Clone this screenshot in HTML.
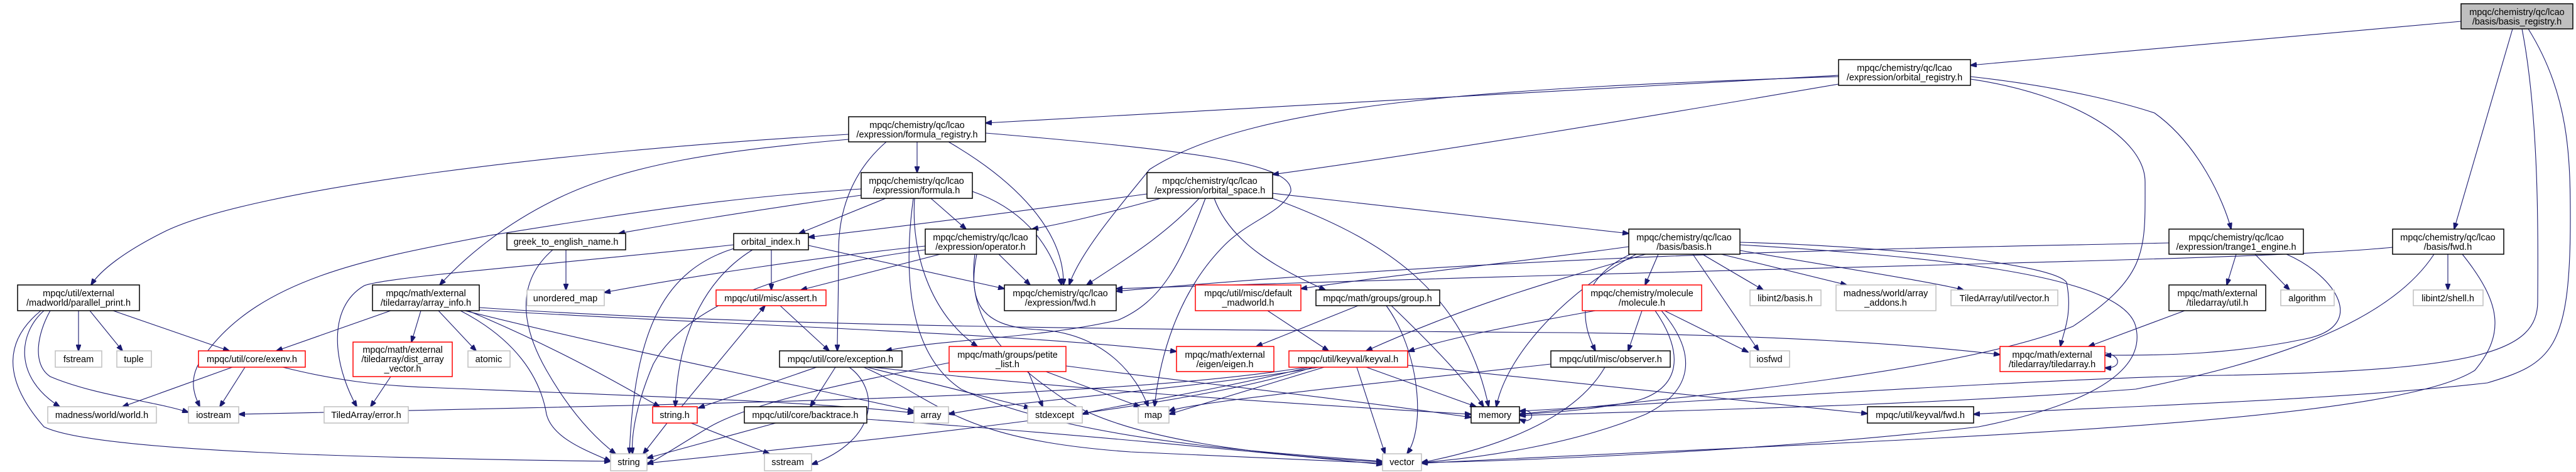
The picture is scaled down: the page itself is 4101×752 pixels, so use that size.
<!DOCTYPE html>
<html><head><meta charset="utf-8"><style>
html,body{margin:0;padding:0;background:#fff;width:4101px;height:752px;overflow:hidden}
svg text{font-family:"Liberation Sans",sans-serif;font-size:14.5px;fill:#000;text-anchor:middle}
.e{fill:none;stroke:#191970;stroke-width:1.1;marker-end:url(#a)}
.b{fill:#fff;stroke:#000;stroke-width:1.5}
.g{fill:#fff;stroke:#bfbfbf;stroke-width:1.5}
.r{fill:#fff;stroke:#ff0000;stroke-width:1.5}
.root{fill:#bfbfbf;stroke:#000;stroke-width:1.5}
</style></head><body>
<svg width="4101" height="752" viewBox="0 0 4101 752" xmlns="http://www.w3.org/2000/svg">
<defs><marker id="a" markerUnits="userSpaceOnUse" markerWidth="11" markerHeight="8" refX="10" refY="4" orient="auto"><path d="M0,0 L11,4 L0,8 z" fill="#191970" stroke="#191970"/></marker></defs>
<g>
<path class="e" d="M3918,34 L3137,104"/>
<path class="e" d="M4000,46 L3907,365"/>
<path class="e" d="M4015,46 C4045,200 4040,420 4040,480 C4040,560 3950,590 3540,598 C3300,600 2700,640 2419,655"/>
<path class="e" d="M4025,46 C4090,150 4092,250 4092,350 C4092,560 4060,580 3960,610 C3700,640 3300,650 3142,660"/>
<path class="e" d="M2927,120 L1569,196"/>
<path class="e" d="M2927,134 C2600,190 2300,240 2026,278"/>
<path class="e" d="M2927,122 C2400,140 2000,160 1830,270 C1790,320 1720,400 1702,454"/>
<path class="e" d="M3137,122 C3300,140 3400,170 3430,180 C3500,230 3540,320 3552,365"/>
<path class="e" d="M3137,126 C3300,150 3415,220 3415,290 C3415,400 3420,440 3300,520 C3100,600 2600,640 2419,660"/>
<path class="e" d="M1351,214 C900,240 400,300 260,370 C200,400 160,430 145,454"/>
<path class="e" d="M1351,222 C1150,240 1000,260 880,320 C800,360 740,410 700,454"/>
<path class="e" d="M1460,226 L1460,275"/>
<path class="e" d="M1411,226 C1360,270 1335,330 1335,400 C1335,480 1333,520 1333,559"/>
<path class="e" d="M1510,226 C1620,290 1695,370 1693,454"/>
<path class="e" d="M1569,212 C1900,240 2060,260 2055,305 C2040,340 1990,350 1950,390 C1870,470 1845,580 1838,648"/>
<path class="e" d="M1371,301 C1150,315 1000,340 780,375 C600,410 420,440 330,560 C295,600 310,630 318,648"/>
<path class="e" d="M1371,311 C1200,335 1050,360 985,372"/>
<path class="e" d="M1410,316 L1272,372"/>
<path class="e" d="M1482,316 L1538,365"/>
<path class="e" d="M1548,305 C1620,330 1670,380 1690,454"/>
<path class="e" d="M1456,316 C1450,400 1480,500 1556,552"/>
<path class="e" d="M1454,316 C1440,420 1440,560 1530,620 C1700,700 2000,720 2201,735"/>
<path class="e" d="M880,398 C820,450 830,520 870,590 C910,660 950,700 980,723"/>
<path class="e" d="M901,398 L901,462"/>
<path class="e" d="M1826,309 C1600,340 1400,365 1287,378"/>
<path class="e" d="M1848,316 C1760,340 1700,355 1643,365"/>
<path class="e" d="M1909,316 C1850,380 1780,420 1730,454"/>
<path class="e" d="M1919,316 C1880,420 1850,480 1780,510 C1650,540 1500,540 1410,559"/>
<path class="e" d="M2026,308 L2593,372"/>
<path class="e" d="M2026,316 C2200,380 2330,460 2370,648"/>
<path class="e" d="M1933,316 C1960,390 2040,430 2110,462"/>
<path class="e" d="M1287,391 L1599,460"/>
<path class="e" d="M1228,398 L1228,462"/>
<path class="e" d="M1198,398 C1130,440 1080,520 1075,648"/>
<path class="e" d="M1168,396 C1060,430 1010,520 1002,723"/>
<path class="e" d="M1168,390 C900,420 620,440 580,455 C520,490 530,580 568,648"/>
<path class="e" d="M1473,392 C1300,410 1100,440 962,466"/>
<path class="e" d="M1473,398 C1300,420 1100,470 1040,580 C1010,650 1005,700 1007,723"/>
<path class="e" d="M1497,405 C1400,430 1320,450 1275,462"/>
<path class="e" d="M1590,405 L1640,454"/>
<path class="e" d="M1555,405 C1540,480 1560,520 1650,525 C1760,530 1810,600 1828,648"/>
<path class="e" d="M1552,405 C1540,500 1580,560 1700,640 C1800,700 2000,725 2201,736"/>
<path class="e" d="M622,495 L440,559"/>
<path class="e" d="M670,495 L655,545"/>
<path class="e" d="M698,495 L758,559"/>
<path class="e" d="M733,495 C820,540 860,600 870,660 C880,700 940,720 972,735"/>
<path class="e" d="M745,495 C900,560 1000,620 1050,648"/>
<path class="e" d="M763,490 C1200,520 1800,525 2500,530 C2900,535 3100,555 3184,565"/>
<path class="e" d="M763,494 C1200,520 1600,530 1873,560"/>
<path class="e" d="M740,495 C1000,560 1300,620 1455,655"/>
<path class="e" d="M125,495 L125,559"/>
<path class="e" d="M143,495 L195,559"/>
<path class="e" d="M180,495 L365,559"/>
<path class="e" d="M70,495 C30,530 20,600 95,648"/>
<path class="e" d="M80,495 C60,530 50,580 80,600 C150,630 250,640 300,657"/>
<path class="e" d="M65,495 C10,540 0,600 70,680 C150,720 600,730 972,735"/>
<path class="e" d="M370,585 L195,648"/>
<path class="e" d="M390,585 L350,648"/>
<path class="e" d="M450,585 C530,605 600,615 700,618 C1000,630 1300,640 1455,658"/>
<path class="e" d="M622,600 L590,648"/>
<path class="e" d="M1062,674 L1024,723"/>
<path class="e" d="M1100,674 L1225,723"/>
<path class="e" d="M1085,648 L1218,487"/>
<path class="e" d="M1242,487 L1320,559"/>
<path class="e" d="M1300,585 L1112,650"/>
<path class="e" d="M1330,585 L1290,648"/>
<path class="e" d="M1352,585 C1400,620 1400,700 1292,740"/>
<path class="e" d="M1380,585 L1640,650"/>
<path class="e" d="M1375,585 C1500,640 1520,700 1800,720 C2000,730 2150,735 2201,738"/>
<path class="e" d="M1390,585 C1700,620 2000,640 2342,660"/>
<path class="e" d="M1235,674 L1030,730"/>
<path class="e" d="M1380,668 C1700,690 2000,720 2201,740"/>
<path class="e" d="M1637,592 L1660,648"/>
<path class="e" d="M1665,592 L1815,648"/>
<path class="e" d="M1697,583 C1900,610 2100,630 2342,665"/>
<path class="e" d="M1511,578 C1350,610 1200,640 1130,680 C1080,710 1050,730 1030,740"/>
<path class="e" d="M2018,495 L2115,559"/>
<path class="e" d="M2162,487 L2000,552"/>
<path class="e" d="M2215,487 C2270,540 2330,600 2362,648"/>
<path class="e" d="M2207,487 C2260,560 2270,680 2240,723"/>
<path class="e" d="M2620,405 C2500,440 2350,480 2175,559"/>
<path class="e" d="M2593,393 C2400,420 2200,440 2071,460"/>
<path class="e" d="M2640,405 L2619,454"/>
<path class="e" d="M2710,405 L2807,462"/>
<path class="e" d="M2740,405 L2940,454"/>
<path class="e" d="M2770,399 C2950,430 3080,450 3126,462"/>
<path class="e" d="M2695,405 L2800,559"/>
<path class="e" d="M2600,403 C2540,430 2500,480 2540,559"/>
<path class="e" d="M2605,405 C2500,460 2400,560 2382,648"/>
<path class="e" d="M2770,386 C3000,392 3270,420 3290,450 C3300,500 3285,530 3280,552"/>
<path class="e" d="M2770,390 C3100,410 3380,440 3400,520 C3420,600 3300,650 3150,680 C2800,720 2400,735 2263,737"/>
<path class="e" d="M2540,495 C2400,520 2300,540 2242,560"/>
<path class="e" d="M2614,495 L2592,559"/>
<path class="e" d="M2650,495 L2783,561"/>
<path class="e" d="M2635,495 C2680,560 2680,620 2600,640 C2520,655 2460,658 2419,660"/>
<path class="e" d="M2645,495 C2700,560 2700,620 2620,660 C2500,710 2350,730 2263,737"/>
<path class="e" d="M2160,585 L2205,723"/>
<path class="e" d="M2175,585 L2350,648"/>
<path class="e" d="M2241,582 L2973,659"/>
<path class="e" d="M2108,585 L1861,660"/>
<path class="e" d="M2100,585 C1900,620 1600,640 1510,660"/>
<path class="e" d="M2085,585 C1900,630 1750,650 1723,660"/>
<path class="e" d="M2080,585 C1800,630 1300,640 380,660"/>
<path class="e" d="M2090,585 C1900,650 1400,700 1030,738"/>
<path class="e" d="M2469,580 C2200,610 1900,640 1861,655"/>
<path class="e" d="M2555,585 C2500,680 2350,720 2263,737"/>
<path class="e" d="M2419,655 C2445,648 2445,678 2419,668"/>
<path class="e" d="M3351,562 C3378,566 3378,588 3351,586"/>
<path class="e" d="M3560,405 L3545,454"/>
<path class="e" d="M3590,405 L3645,462"/>
<path class="e" d="M3640,405 C3720,440 3770,520 3670,540 C3550,565 3450,566 3351,566"/>
<path class="e" d="M3453,387 C3100,395 2500,400 1777,464"/>
<path class="e" d="M3897,405 L3897,462"/>
<path class="e" d="M3809,394 C3600,415 3000,420 1777,460"/>
<path class="e" d="M3875,405 C3800,520 3600,580 3400,620 C3000,650 2600,655 2419,662"/>
<path class="e" d="M3920,405 C3980,480 3990,530 3940,590 C3800,680 3000,700 2263,738"/>
<path class="e" d="M3478,495 L3325,552"/>
</g>
<g>
<rect class="root" x="3918" y="6" width="178" height="40"/><text x="4007" y="24">mpqc/chemistry/qc/lcao</text><text x="4007" y="39">/basis/basis_registry.h</text>
<rect class="b" x="2927" y="95" width="210" height="41"/><text x="3032" y="113">mpqc/chemistry/qc/lcao</text><text x="3032" y="128">/expression/orbital_registry.h</text>
<rect class="b" x="1351" y="186" width="218" height="40"/><text x="1460" y="204">mpqc/chemistry/qc/lcao</text><text x="1460" y="219">/expression/formula_registry.h</text>
<rect class="b" x="1371" y="275" width="177" height="41"/><text x="1459" y="293">mpqc/chemistry/qc/lcao</text><text x="1459" y="308">/expression/formula.h</text>
<rect class="b" x="1826" y="275" width="200" height="41"/><text x="1926" y="293">mpqc/chemistry/qc/lcao</text><text x="1926" y="308">/expression/orbital_space.h</text>
<rect class="b" x="1473" y="365" width="177" height="40"/><text x="1561" y="383">mpqc/chemistry/qc/lcao</text><text x="1561" y="398">/expression/operator.h</text>
<rect class="b" x="2593" y="365" width="177" height="40"/><text x="2681" y="383">mpqc/chemistry/qc/lcao</text><text x="2681" y="398">/basis/basis.h</text>
<rect class="b" x="3453" y="365" width="214" height="40"/><text x="3560" y="383">mpqc/chemistry/qc/lcao</text><text x="3560" y="398">/expression/trange1_engine.h</text>
<rect class="b" x="3809" y="365" width="177" height="40"/><text x="3897" y="383">mpqc/chemistry/qc/lcao</text><text x="3897" y="398">/basis/fwd.h</text>
<rect class="b" x="807" y="372" width="189" height="26"/><text x="901" y="390">greek_to_english_name.h</text>
<rect class="b" x="1168" y="372" width="119" height="26"/><text x="1227" y="390">orbital_index.h</text>
<rect class="b" x="28" y="454" width="194" height="41"/><text x="125" y="472">mpqc/util/external</text><text x="125" y="487">/madworld/parallel_print.h</text>
<rect class="b" x="593" y="454" width="170" height="41"/><text x="678" y="472">mpqc/math/external</text><text x="678" y="487">/tiledarray/array_info.h</text>
<rect class="g" x="839" y="462" width="123" height="25"/><text x="900" y="480">unordered_map</text>
<rect class="r" x="1140" y="462" width="175" height="25"/><text x="1227" y="480">mpqc/util/misc/assert.h</text>
<rect class="b" x="1599" y="454" width="178" height="41"/><text x="1688" y="472">mpqc/chemistry/qc/lcao</text><text x="1688" y="487">/expression/fwd.h</text>
<rect class="r" x="1903" y="454" width="168" height="41"/><text x="1987" y="472">mpqc/util/misc/default</text><text x="1987" y="487">_madworld.h</text>
<rect class="b" x="2095" y="462" width="197" height="25"/><text x="2193" y="480">mpqc/math/groups/group.h</text>
<rect class="r" x="2519" y="454" width="190" height="41"/><text x="2614" y="472">mpqc/chemistry/molecule</text><text x="2614" y="487">/molecule.h</text>
<rect class="g" x="2786" y="462" width="113" height="25"/><text x="2842" y="480">libint2/basis.h</text>
<rect class="g" x="2923" y="454" width="159" height="41"/><text x="3002" y="472">madness/world/array</text><text x="3002" y="487">_addons.h</text>
<rect class="g" x="3106" y="462" width="170" height="25"/><text x="3191" y="480">TiledArray/util/vector.h</text>
<rect class="b" x="3453" y="454" width="154" height="41"/><text x="3530" y="472">mpqc/math/external</text><text x="3530" y="487">/tiledarray/util.h</text>
<rect class="g" x="3631" y="462" width="85" height="25"/><text x="3673" y="480">algorithm</text>
<rect class="g" x="3842" y="462" width="111" height="25"/><text x="3897" y="480">libint2/shell.h</text>
<rect class="g" x="88" y="559" width="74" height="26"/><text x="125" y="577">fstream</text>
<rect class="g" x="186" y="559" width="55" height="26"/><text x="213" y="577">tuple</text>
<rect class="r" x="316" y="559" width="170" height="26"/><text x="401" y="577">mpqc/util/core/exenv.h</text>
<rect class="r" x="562" y="545" width="158" height="55"/><text x="641" y="562">mpqc/math/external</text><text x="641" y="577">/tiledarray/dist_array</text><text x="641" y="592">_vector.h</text>
<rect class="g" x="745" y="559" width="67" height="26"/><text x="778" y="577">atomic</text>
<rect class="b" x="1241" y="559" width="195" height="26"/><text x="1338" y="577">mpqc/util/core/exception.h</text>
<rect class="r" x="1511" y="552" width="186" height="40"/><text x="1604" y="570">mpqc/math/groups/petite</text><text x="1604" y="585">_list.h</text>
<rect class="r" x="1873" y="552" width="155" height="40"/><text x="1950" y="570">mpqc/math/external</text><text x="1950" y="585">/eigen/eigen.h</text>
<rect class="r" x="2052" y="559" width="189" height="26"/><text x="2146" y="577">mpqc/util/keyval/keyval.h</text>
<rect class="b" x="2469" y="559" width="190" height="26"/><text x="2564" y="577">mpqc/util/misc/observer.h</text>
<rect class="g" x="2786" y="559" width="63" height="26"/><text x="2817" y="577">iosfwd</text>
<rect class="r" x="3184" y="552" width="167" height="40"/><text x="3267" y="570">mpqc/math/external</text><text x="3267" y="585">/tiledarray/tiledarray.h</text>
<rect class="g" x="76" y="648" width="173" height="26"/><text x="162" y="666">madness/world/world.h</text>
<rect class="g" x="300" y="648" width="80" height="26"/><text x="340" y="666">iostream</text>
<rect class="g" x="516" y="648" width="134" height="26"/><text x="583" y="666">TiledArray/error.h</text>
<rect class="r" x="1039" y="648" width="71" height="26"/><text x="1074" y="666">string.h</text>
<rect class="b" x="1185" y="648" width="195" height="26"/><text x="1282" y="666">mpqc/util/core/backtrace.h</text>
<rect class="g" x="1455" y="648" width="55" height="26"/><text x="1482" y="666">array</text>
<rect class="g" x="1636" y="648" width="87" height="26"/><text x="1679" y="666">stdexcept</text>
<rect class="g" x="1812" y="648" width="49" height="26"/><text x="1836" y="666">map</text>
<rect class="b" x="2342" y="648" width="77" height="26"/><text x="2380" y="666">memory</text>
<rect class="b" x="2973" y="648" width="169" height="26"/><text x="3057" y="666">mpqc/util/keyval/fwd.h</text>
<rect class="g" x="972" y="723" width="58" height="27"/><text x="1001" y="741">string</text>
<rect class="g" x="1217" y="723" width="75" height="27"/><text x="1254" y="741">sstream</text>
<rect class="g" x="2201" y="723" width="62" height="27"/><text x="2232" y="741">vector</text>
</g>
</svg>
</body></html>
